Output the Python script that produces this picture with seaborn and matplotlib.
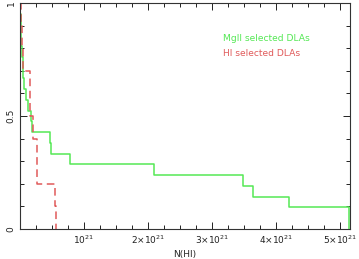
import numpy as np
import pandas as pd
import matplotlib
matplotlib.use("Agg")
import matplotlib.pyplot as plt
from matplotlib.ticker import MultipleLocator, FixedLocator
import seaborn as sns

# N(HI) values (units of 1e21 cm^-2), sorted
mgii_nhi = [0.005, 0.01, 0.015, 0.02, 0.03, 0.04, 0.05, 0.07, 0.086, 0.125,
            0.17, 0.19, 0.47, 0.477, 0.78, 2.09, 3.48, 3.645, 4.2, 5.14, 5.145]
hi_nhi = [0.008, 0.035, 0.04, 0.15, 0.156, 0.205, 0.26, 0.266, 0.55, 0.56]

xtick_vals = [1, 2, 3, 4, 5]
xtick_labels = [r"$10^{21}$", r"$2{\times}10^{21}$", r"$3{\times}10^{21}$",
                r"$4{\times}10^{21}$", r"$5{\times}10^{21}$"]
ytick_vals = [0, 0.5, 1]
ytick_labels = ["0", "0.5", "1"]


def cumulative(vals, label):
    n = len(vals)
    x = [0.0] + list(vals)
    y = [1.0] + [(n - k - 1) / n for k in range(n)]
    return pd.DataFrame({"N": x, "frac": y, "sample": label, "order": range(len(x))})


df = pd.concat([cumulative(mgii_nhi, "MgII"), cumulative(hi_nhi, "HI")], ignore_index=True)

sns.set_style("ticks")
plt.rcParams["font.family"] = ["DejaVu Sans"]
plt.rcParams["mathtext.fontset"] = "dejavusans"

fig = plt.figure(figsize=(3.59, 2.59), dpi=100)
ax = fig.add_axes([20 / 359, 30 / 259, 330 / 359, 226 / 259])

green = "#55e855"
red = "#e05a5a"
sns.lineplot(data=df[df["sample"] == "MgII"], x="N", y="frac", ax=ax,
             estimator=None, sort=False, drawstyle="steps-post",
             color=green, linewidth=1.1)
sns.lineplot(data=df[df["sample"] == "HI"], x="N", y="frac", ax=ax,
             estimator=None, sort=False, drawstyle="steps-post",
             color=red, linewidth=1.1, linestyle=(0, (5, 3)))

ax.set_xlim(0, 5.156)
ax.set_ylim(0, 1)
ax.xaxis.set_major_locator(FixedLocator(xtick_vals))
ax.set_xticklabels(xtick_labels)
ax.xaxis.set_minor_locator(MultipleLocator(0.25))
ax.yaxis.set_major_locator(FixedLocator(ytick_vals))
ax.set_yticklabels(ytick_labels, rotation=90, va="center")
ax.yaxis.set_minor_locator(MultipleLocator(0.1))
ax.tick_params(which="both", direction="in", top=True, right=True,
               labelsize=6.5, width=0.7, colors="#222222")
ax.tick_params(which="major", length=5, pad=3)
ax.tick_params(which="minor", length=3)
for s in ax.spines.values():
    s.set_linewidth(0.8)
    s.set_color("#333333")

ax.set_xlabel("N(HI)", fontsize=6.5, labelpad=3)
ax.set_ylabel("")

ax.text(0.615, 0.83, "MgII selected DLAs", color=green, fontsize=6.6,
        transform=ax.transAxes)
ax.text(0.615, 0.765, "HI selected DLAs", color=red, fontsize=6.6,
        transform=ax.transAxes)

fig.savefig("out.png", dpi=100)
